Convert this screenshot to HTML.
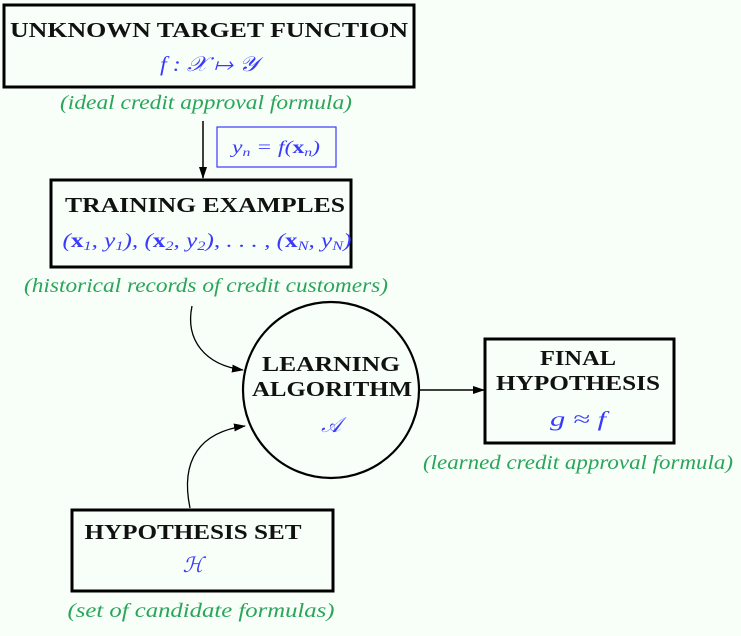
<!DOCTYPE html>
<html><head><meta charset="utf-8"><style>
html,body{margin:0;padding:0;background:#f7fff8;}
svg{display:block}
.t{font-family:"Liberation Serif",serif;font-weight:bold;font-size:21px;fill:#111;text-anchor:middle}
.m{font-family:"Liberation Serif",serif;font-style:italic;font-size:21px;fill:#3a3aff;text-anchor:middle}
.c{font-family:"Liberation Serif",serif;font-style:italic;font-size:20px;fill:#2aa55a;text-anchor:middle}
</style></head><body>
<svg width="741" height="636" viewBox="0 0 741 636">
<defs><marker id="a" markerWidth="12" markerHeight="8" refX="11" refY="4" orient="auto" markerUnits="userSpaceOnUse"><path d="M0,0 L12,4 L0,8 Z" fill="#000"/></marker></defs>
<rect x="4" y="5" width="410" height="82" fill="none" stroke="#000" stroke-width="3"/>
<text class="t" x="209" y="37" textLength="398" lengthAdjust="spacingAndGlyphs">UNKNOWN TARGET FUNCTION</text>
<text class="m" x="209" y="71" textLength="98" lengthAdjust="spacingAndGlyphs">f : 𝒳 ↦ 𝒴</text>
<text class="c" x="206" y="109" textLength="292" lengthAdjust="spacingAndGlyphs">(ideal credit approval formula)</text>
<line x1="203" y1="121" x2="203" y2="178" stroke="#000" stroke-width="1.5" marker-end="url(#a)"/>
<rect x="217" y="127" width="119" height="40" fill="none" stroke="#3a3aff" stroke-width="1.2"/>
<text class="m" x="276" y="153" style="font-size:18px" textLength="88" lengthAdjust="spacingAndGlyphs">y<tspan font-size="12" dy="3">n</tspan><tspan dy="-3"> = f(</tspan><tspan font-style="normal" font-weight="bold">x</tspan><tspan font-size="12" dy="3">n</tspan><tspan dy="-3">)</tspan></text>
<rect x="51" y="180" width="300" height="87" fill="none" stroke="#000" stroke-width="3"/>
<text class="t" x="205" y="212" textLength="280" lengthAdjust="spacingAndGlyphs">TRAINING EXAMPLES</text>
<text class="m" x="207" y="247" style="font-size:20px" textLength="289" lengthAdjust="spacingAndGlyphs">(<tspan font-style="normal" font-weight="bold">x</tspan><tspan font-size="13" dy="3">1</tspan><tspan dy="-3">, y</tspan><tspan font-size="13" dy="3">1</tspan><tspan dy="-3">), (</tspan><tspan font-style="normal" font-weight="bold">x</tspan><tspan font-size="13" dy="3">2</tspan><tspan dy="-3">, y</tspan><tspan font-size="13" dy="3">2</tspan><tspan dy="-3">), . . . , (</tspan><tspan font-style="normal" font-weight="bold">x</tspan><tspan font-size="13" dy="3">N</tspan><tspan dy="-3">, y</tspan><tspan font-size="13" dy="3">N</tspan><tspan dy="-3">)</tspan></text>
<text class="c" x="206" y="292" textLength="364" lengthAdjust="spacingAndGlyphs">(historical records of credit customers)</text>
<path d="M192,306 C185,340 205,365 243,370" fill="none" stroke="#000" stroke-width="1.3" marker-end="url(#a)"/>
<path d="M190,508 C180,460 200,432 245,426" fill="none" stroke="#000" stroke-width="1.3" marker-end="url(#a)"/>
<circle cx="331" cy="390" r="88" fill="none" stroke="#000" stroke-width="2.2"/>
<text class="t" x="331" y="371" textLength="138" lengthAdjust="spacingAndGlyphs">LEARNING</text>
<text class="t" x="332" y="396" textLength="160" lengthAdjust="spacingAndGlyphs">ALGORITHM</text>
<text class="m" x="331" y="432">𝒜</text>
<line x1="420" y1="390" x2="484" y2="390" stroke="#000" stroke-width="1.5" marker-end="url(#a)"/>
<rect x="485" y="339" width="189" height="104" fill="none" stroke="#000" stroke-width="3"/>
<text class="t" x="578" y="365" textLength="76" lengthAdjust="spacingAndGlyphs">FINAL</text>
<text class="t" x="578" y="390" textLength="164" lengthAdjust="spacingAndGlyphs">HYPOTHESIS</text>
<text class="m" x="578" y="426" textLength="56" lengthAdjust="spacingAndGlyphs">g ≈ f</text>
<text class="c" x="578" y="469" textLength="310" lengthAdjust="spacingAndGlyphs">(learned credit approval formula)</text>
<rect x="72" y="510" width="261" height="81" fill="none" stroke="#000" stroke-width="3"/>
<text class="t" x="193" y="539" textLength="217" lengthAdjust="spacingAndGlyphs">HYPOTHESIS SET</text>
<text class="m" x="193" y="572">ℋ</text>
<text class="c" x="201" y="617" textLength="267" lengthAdjust="spacingAndGlyphs">(set of candidate formulas)</text>
</svg>
</body></html>
